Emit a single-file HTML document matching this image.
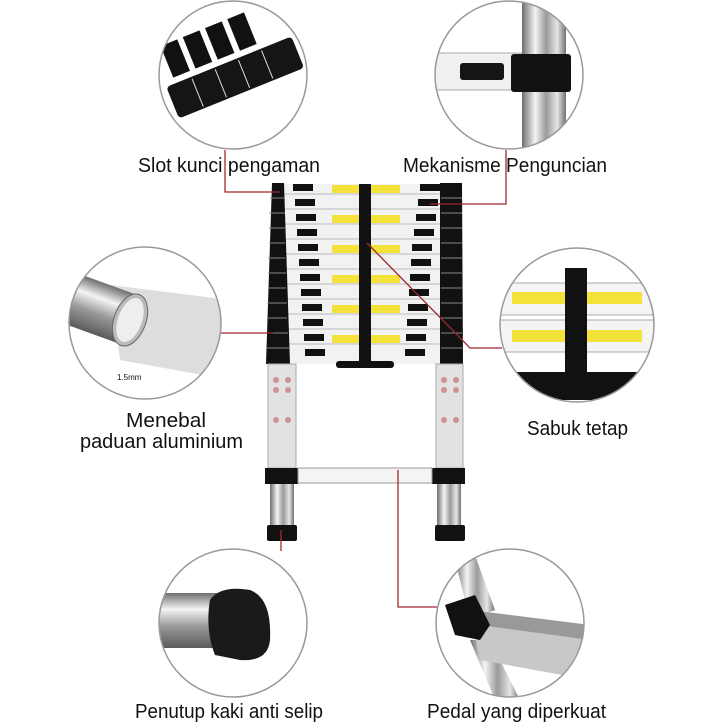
<!DOCTYPE html>
<html><head><meta charset="utf-8"><style>
html,body{margin:0;padding:0;background:#fff;}
svg{display:block;}
text{font-family:"Liberation Sans",sans-serif;font-size:20px;fill:#111;}
</style></head><body>
<svg width="726" height="726" viewBox="0 0 726 726" xmlns="http://www.w3.org/2000/svg">
<defs>
<linearGradient id="chrome" x1="0" x2="1" y1="0" y2="0">
<stop offset="0" stop-color="#6e6e6e"/><stop offset="0.3" stop-color="#f4f4f4"/><stop offset="0.55" stop-color="#9a9a9a"/><stop offset="0.8" stop-color="#e6e6e6"/><stop offset="1" stop-color="#707070"/></linearGradient>
<linearGradient id="chromeV" x1="0" x2="0" y1="0" y2="1">
<stop offset="0" stop-color="#6e6e6e"/><stop offset="0.3" stop-color="#f4f4f4"/><stop offset="0.6" stop-color="#9a9a9a"/><stop offset="1" stop-color="#5a5a5a"/></linearGradient>
<clipPath id="c1"><circle cx="233" cy="75" r="74"/></clipPath>
<clipPath id="c2"><circle cx="509" cy="75" r="74"/></clipPath>
<clipPath id="c3"><circle cx="145" cy="323" r="76"/></clipPath>
<clipPath id="c4"><circle cx="577" cy="325" r="77"/></clipPath>
<clipPath id="c5"><circle cx="233" cy="623" r="74"/></clipPath>
<clipPath id="c6"><circle cx="510" cy="623" r="74"/></clipPath>
</defs>

<!-- ladder top section -->
<g>
<rect x="282" y="184" width="170" height="180" fill="#f2f2f2"/>
<g fill="#111">
<rect x="293" y="184" width="20" height="7"/><rect x="420" y="184" width="20" height="7"/>
<rect x="295" y="199" width="20" height="7"/><rect x="418" y="199" width="20" height="7"/>
<rect x="296" y="214" width="20" height="7"/><rect x="416" y="214" width="20" height="7"/>
<rect x="297" y="229" width="20" height="7"/><rect x="414" y="229" width="20" height="7"/>
<rect x="298" y="244" width="20" height="7"/><rect x="412" y="244" width="20" height="7"/>
<rect x="299" y="259" width="20" height="7"/><rect x="411" y="259" width="20" height="7"/>
<rect x="300" y="274" width="20" height="7"/><rect x="410" y="274" width="20" height="7"/>
<rect x="301" y="289" width="20" height="7"/><rect x="409" y="289" width="20" height="7"/>
<rect x="302" y="304" width="20" height="7"/><rect x="408" y="304" width="20" height="7"/>
<rect x="303" y="319" width="20" height="7"/><rect x="407" y="319" width="20" height="7"/>
<rect x="304" y="334" width="20" height="7"/><rect x="406" y="334" width="20" height="7"/>
<rect x="305" y="349" width="20" height="7"/><rect x="405" y="349" width="20" height="7"/>
</g>
<g stroke="#bbb" stroke-width="1">
<line x1="285" y1="194" x2="450" y2="194"/><line x1="285" y1="209" x2="450" y2="209"/>
<line x1="285" y1="224" x2="450" y2="224"/><line x1="285" y1="239" x2="450" y2="239"/>
<line x1="285" y1="254" x2="450" y2="254"/><line x1="285" y1="269" x2="450" y2="269"/>
<line x1="285" y1="284" x2="450" y2="284"/><line x1="285" y1="299" x2="450" y2="299"/>
<line x1="285" y1="314" x2="450" y2="314"/><line x1="285" y1="329" x2="450" y2="329"/>
<line x1="285" y1="344" x2="450" y2="344"/>
</g>
<g fill="#f2e23a">
<rect x="332" y="185" width="68" height="8"/><rect x="332" y="215" width="68" height="8"/>
<rect x="332" y="245" width="68" height="8"/><rect x="332" y="275" width="68" height="8"/>
<rect x="332" y="305" width="68" height="8"/><rect x="332" y="335" width="68" height="8"/>
</g>
<rect x="359" y="184" width="12" height="180" fill="#111"/>
<rect x="336" y="361" width="58" height="7" rx="3" fill="#111"/>
<g fill="#111">
<path d="M284,183 L272,183 L266,364 L290,364 Z"/>
<path d="M440,183 L462,183 L463,364 L440,364 Z"/>
</g>
<g stroke="#888" stroke-width="1">
<line x1="270" y1="198" x2="285" y2="198"/><line x1="269" y1="213" x2="285" y2="213"/><line x1="269" y1="228" x2="285" y2="228"/><line x1="269" y1="243" x2="285" y2="243"/><line x1="268" y1="258" x2="285" y2="258"/><line x1="268" y1="273" x2="286" y2="273"/><line x1="268" y1="288" x2="286" y2="288"/><line x1="267" y1="303" x2="287" y2="303"/><line x1="267" y1="318" x2="287" y2="318"/><line x1="267" y1="333" x2="288" y2="333"/><line x1="267" y1="348" x2="289" y2="348"/>
<line x1="441" y1="198" x2="462" y2="198"/><line x1="441" y1="213" x2="462" y2="213"/><line x1="441" y1="228" x2="462" y2="228"/><line x1="441" y1="243" x2="462" y2="243"/><line x1="441" y1="258" x2="462" y2="258"/><line x1="441" y1="273" x2="462" y2="273"/><line x1="441" y1="288" x2="462" y2="288"/><line x1="441" y1="303" x2="462" y2="303"/><line x1="441" y1="318" x2="462" y2="318"/><line x1="441" y1="333" x2="462" y2="333"/><line x1="441" y1="348" x2="462" y2="348"/>
</g>
</g>
<!-- lower poles -->
<rect x="268" y="364" width="28" height="104" fill="#e2e2e2" stroke="#aaa"/>
<rect x="436" y="364" width="27" height="104" fill="#e2e2e2" stroke="#aaa"/>
<g fill="#b44" opacity="0.5">
<circle cx="276" cy="380" r="3"/><circle cx="288" cy="380" r="3"/><circle cx="276" cy="390" r="3"/><circle cx="288" cy="390" r="3"/><circle cx="276" cy="420" r="3"/><circle cx="288" cy="420" r="3"/>
<circle cx="444" cy="380" r="3"/><circle cx="456" cy="380" r="3"/><circle cx="444" cy="390" r="3"/><circle cx="456" cy="390" r="3"/><circle cx="444" cy="420" r="3"/><circle cx="456" cy="420" r="3"/>
</g>
<rect x="265" y="468" width="33" height="16" fill="#111"/>
<rect x="432" y="468" width="33" height="16" fill="#111"/>
<rect x="298" y="468" width="134" height="15" fill="#f4f4f4" stroke="#999"/>
<rect x="270" y="484" width="24" height="42" fill="url(#chrome)"/>
<rect x="437" y="484" width="24" height="42" fill="url(#chrome)"/>
<rect x="267" y="525" width="30" height="16" rx="2" fill="#111"/>
<rect x="435" y="525" width="30" height="16" rx="2" fill="#111"/>

<!-- red leaders -->
<g stroke="#a0282c" stroke-width="1.3" fill="none">
<polyline points="225,150 225,192 280,192"/>
<polyline points="506,150 506,204 430,204"/>
<polyline points="221,333 273,333"/>
<polyline points="367,243 470,348 502,348"/>
<polyline points="398,470 398,607 437,607"/>
<polyline points="281,530 281,551"/>
</g>

<!-- circle 1 -->
<g clip-path="url(#c1)">
<rect x="150" y="0" width="170" height="160" fill="#fff"/>
<g transform="translate(233,60) rotate(-22)">
<rect x="-70" y="-45" width="130" height="45" fill="#fff"/>
<rect x="-62" y="-40" width="18" height="34" fill="#111"/><rect x="-38" y="-40" width="18" height="34" fill="#111"/><rect x="-14" y="-40" width="18" height="34" fill="#111"/><rect x="10" y="-40" width="18" height="34" fill="#111"/>
<rect x="-72" y="0" width="135" height="34" rx="4" fill="#151515"/>
<line x1="-45" y1="2" x2="-45" y2="32" stroke="#ddd"/><line x1="-20" y1="2" x2="-20" y2="32" stroke="#ddd"/><line x1="5" y1="2" x2="5" y2="32" stroke="#ddd"/><line x1="30" y1="2" x2="30" y2="32" stroke="#ddd"/>
</g>
</g>
<circle cx="233" cy="75" r="74" fill="none" stroke="#999" stroke-width="1.5"/>

<!-- circle 2 -->
<g clip-path="url(#c2)">
<rect x="430" y="0" width="160" height="160" fill="#fff"/>
<rect x="430" y="53" width="100" height="37" fill="#f0f0f0" stroke="#aaa"/>
<rect x="522" y="0" width="44" height="160" fill="url(#chrome)"/>
<rect x="460" y="63" width="44" height="17" rx="3" fill="#151515"/>
<rect x="511" y="54" width="60" height="38" rx="3" fill="#111"/>
</g>
<circle cx="509" cy="75" r="74" fill="none" stroke="#999" stroke-width="1.5"/>

<!-- circle 3 -->
<g clip-path="url(#c3)">
<rect x="60" y="240" width="170" height="170" fill="#fff"/>
<polygon points="110,285 230,300 230,380 120,360" fill="#ddd"/>
<g transform="translate(130,320) rotate(20)">
<rect x="-90" y="-26" width="90" height="52" fill="url(#chromeV)"/>
<ellipse cx="0" cy="0" rx="16" ry="27" fill="#bbb" stroke="#666"/>
<ellipse cx="0" cy="0" rx="12" ry="23" fill="#eee"/>
</g>
<text x="117" y="380" style="font-size:8px">1.5mm</text>
</g>
<circle cx="145" cy="323" r="76" fill="none" stroke="#999" stroke-width="1.5"/>

<!-- circle 4 -->
<g clip-path="url(#c4)">
<rect x="495" y="245" width="165" height="165" fill="#fff"/>
<rect x="495" y="283" width="165" height="32" fill="#f4f4f4" stroke="#aaa"/>
<rect x="495" y="320" width="165" height="32" fill="#f4f4f4" stroke="#aaa"/>
<rect x="512" y="292" width="130" height="12" fill="#f2e23a"/>
<rect x="512" y="330" width="130" height="12" fill="#f2e23a"/>
<rect x="565" y="268" width="22" height="110" fill="#111"/>
<path d="M515,372 L640,372 L650,400 L505,400 Z" fill="#111"/>
</g>
<circle cx="577" cy="325" r="77" fill="none" stroke="#999" stroke-width="1.5"/>

<!-- circle 5 -->
<g clip-path="url(#c5)">
<rect x="155" y="545" width="160" height="160" fill="#fff"/>
<rect x="150" y="593" width="70" height="55" fill="url(#chromeV)"/>
<path d="M210,600 Q220,585 250,590 Q272,598 270,640 Q268,662 240,660 L215,655 Q205,630 210,600 Z" fill="#1a1a1a"/>
</g>
<circle cx="233" cy="623" r="74" fill="none" stroke="#999" stroke-width="1.5"/>

<!-- circle 6 -->
<g clip-path="url(#c6)">
<rect x="430" y="545" width="165" height="160" fill="#fff"/>
<polygon points="455,560 475,555 495,610 470,620" fill="url(#chrome)"/>
<polygon points="470,640 490,640 520,700 495,700" fill="url(#chrome)"/>
<polygon points="470,610 590,625 590,680 480,660" fill="#c8c8c8"/>
<polygon points="470,610 590,625 590,640 480,625" fill="#999"/>
<path d="M445,605 L475,595 L490,625 L480,640 L455,635 Z" fill="#111"/>
</g>
<circle cx="510" cy="623" r="74" fill="none" stroke="#999" stroke-width="1.5"/>

<!-- labels -->
<text x="138" y="172" textLength="182" lengthAdjust="spacingAndGlyphs">Slot kunci pengaman</text>
<text x="403" y="172" textLength="204" lengthAdjust="spacingAndGlyphs">Mekanisme Penguncian</text>
<text x="126" y="427" textLength="80" lengthAdjust="spacingAndGlyphs">Menebal</text>
<text x="80" y="448" textLength="163" lengthAdjust="spacingAndGlyphs">paduan aluminium</text>
<text x="527" y="435" textLength="101" lengthAdjust="spacingAndGlyphs">Sabuk tetap</text>
<text x="135" y="718" textLength="188" lengthAdjust="spacingAndGlyphs">Penutup kaki anti selip</text>
<text x="427" y="718" textLength="179" lengthAdjust="spacingAndGlyphs">Pedal yang diperkuat</text>
</svg>
</body></html>
